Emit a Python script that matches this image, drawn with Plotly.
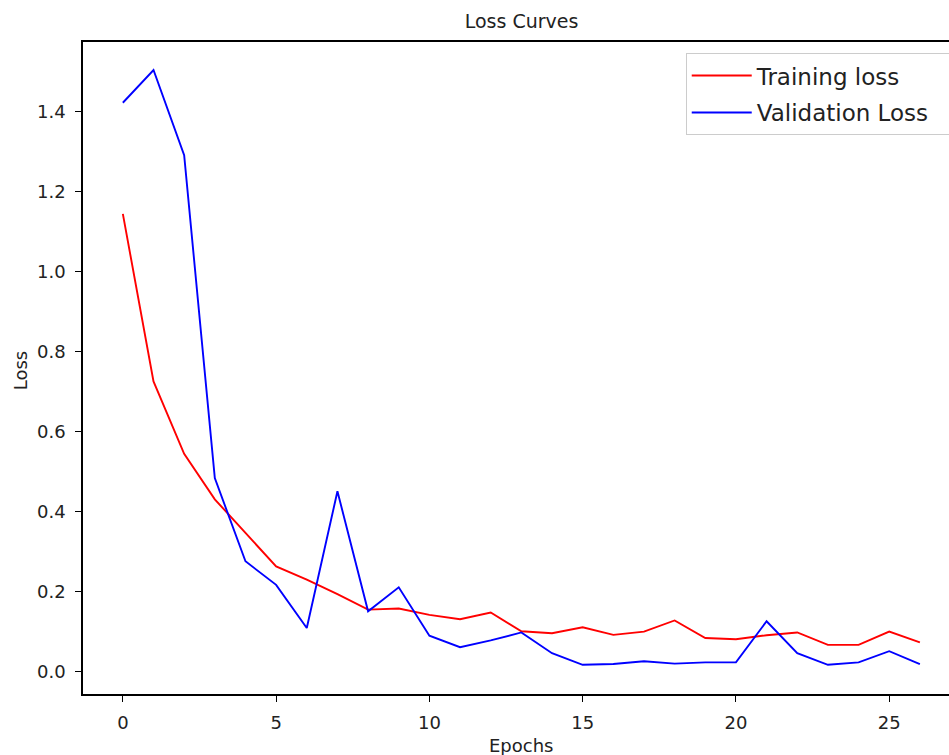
import plotly.graph_objects as go

epochs = list(range(27))
training_loss = [1.144, 0.725, 0.544, 0.43, 0.346, 0.262, 0.229, 0.193, 0.154, 0.157,
                 0.141, 0.130, 0.147, 0.100, 0.095, 0.110, 0.091, 0.099, 0.127, 0.083,
                 0.080, 0.090, 0.097, 0.066, 0.066, 0.099, 0.072]
validation_loss = [1.422, 1.504, 1.291, 0.483, 0.275, 0.216, 0.108, 0.450, 0.150, 0.210,
                   0.089, 0.060, 0.077, 0.097, 0.045, 0.016, 0.018, 0.025, 0.019, 0.022,
                   0.022, 0.125, 0.045, 0.016, 0.022, 0.050, 0.018]
x_ticks = [0, 5, 10, 15, 20, 25]
y_ticks = [0.0, 0.2, 0.4, 0.6, 0.8, 1.0, 1.2, 1.4]
series_names = ["Training loss", "Validation Loss"]

FONT = "DejaVu Sans"
TXT = "#222222"
PAD = "\u00a0\u00a0\u00a0"

fig = go.Figure()
fig.add_trace(go.Scatter(x=epochs, y=training_loss, mode="lines", name=series_names[0] + PAD,
                         legendgroup="a", line=dict(color="#ff0000", width=1.9)))
fig.add_trace(go.Scatter(x=epochs, y=validation_loss, mode="lines", name=series_names[1] + PAD,
                         legendgroup="b", line=dict(color="#0000ff", width=1.9)))

fig.update_layout(
    width=949, height=755,
    margin=dict(l=83, r=0, t=42, b=61, autoexpand=False),
    paper_bgcolor="white", plot_bgcolor="white",
    font=dict(family=FONT, color=TXT, size=18),
    title=dict(text="Loss Curves", x=0.5064, xref="paper", y=1 - 21 / 755, yref="container",
               xanchor="center", yanchor="middle", font=dict(size=19, color=TXT)),
    showlegend=True,
    legend=dict(x=0.696, y=0.983, xanchor="left", yanchor="top",
                bordercolor="#cccccc", borderwidth=1, bgcolor="rgba(255,255,255,0.8)",
                font=dict(size=23, color=TXT), tracegroupgap=4, itemwidth=60),
    xaxis=dict(range=[-1.3, 26.95], tickvals=x_ticks, ticks="outside", ticklen=6,
               tickcolor="black", showline=True, linecolor="black", linewidth=1.5,
               mirror=True, showgrid=False, zeroline=False, ticklabelstandoff=6,
               tickfont=dict(size=18, color=TXT)),
    yaxis=dict(range=[-0.057, 1.574], tickvals=y_ticks, ticktext=[f"{v:.1f}" for v in y_ticks],
               ticks="outside", ticklen=6, tickcolor="black", showline=True,
               linecolor="black", linewidth=1.5, mirror=False, showgrid=False,
               zeroline=False, ticklabelstandoff=6, tickfont=dict(size=18, color=TXT)),
    annotations=[
        dict(text="Loss", xref="paper", yref="paper", x=(20 - 83) / 866, y=0.495,
             textangle=-90, showarrow=False, xanchor="center", yanchor="middle",
             font=dict(size=18, color=TXT)),
        dict(text="Epochs", xref="paper", yref="paper", x=0.5064, y=(694 - 745) / 652,
             showarrow=False, xanchor="center", yanchor="middle",
             font=dict(size=18, color=TXT)),
    ],
)

fig.write_html("out.html")
